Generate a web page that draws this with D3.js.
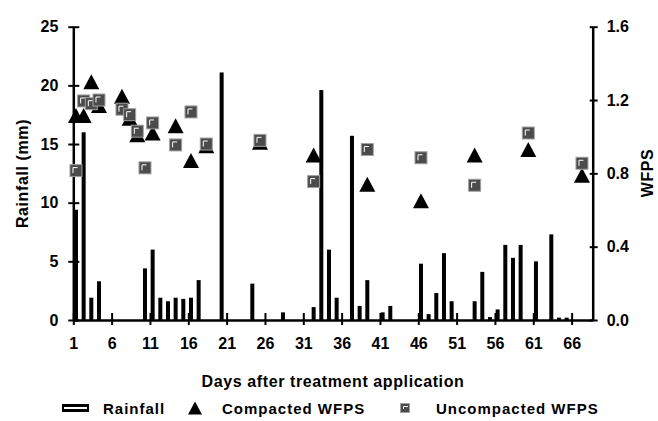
<!DOCTYPE html>
<html>
<head>
<meta charset="utf-8">
<script src="https://cdn.jsdelivr.net/npm/d3@7"></script>
<style>
    body { margin: 0; background: #fff; }
    text { font-family: "Liberation Sans", Arial, sans-serif; font-weight: bold; }
</style>
</head>
<body>
<div class="chart"></div>
<script>
// Rainfall (mm) per day after treatment application
var rainDays = [1, 2, 3, 4, 10, 11, 12, 13, 14, 15, 16, 17, 20, 24, 28, 32, 33, 34, 35, 37, 38, 39, 41, 42,
    46, 47, 48, 49, 50, 53, 54, 55, 56, 57, 58, 59, 61, 63, 64, 65]
var rainValues = [9.4, 16.0, 1.9, 3.3, 4.4, 6.0, 1.9, 1.6, 1.9, 1.8, 1.9, 3.4, 21.1, 3.1, 0.65, 1.1, 19.6, 6.0, 1.9, 15.7, 1.2, 3.4, 0.65, 1.2,
    4.8, 0.5, 2.3, 5.7, 1.6, 1.6, 4.1, 0.25, 0.9, 6.4, 5.3, 6.4, 5.0, 7.3, 0.2, 0.2]

// Water filled pore space, compacted plots
var compactedDays = [1, 2, 3, 4, 7, 8, 9, 11, 14, 16, 18, 25, 32, 39, 46, 53, 60, 67]
var compactedWfps = [1.115, 1.115, 1.30, 1.17, 1.22, 1.10, 1.01, 1.02, 1.06, 0.87, 0.95, 0.97, 0.90, 0.74, 0.65, 0.90, 0.93, 0.79]

// Water filled pore space, uncompacted plots
var uncompactedDays = [1, 2, 3, 4, 7, 8, 9, 10, 11, 14, 16, 18, 25, 32, 39, 46, 53, 60, 67]
var uncompactedWfps = [0.815, 1.195, 1.18, 1.20, 1.15, 1.12, 1.03, 0.83, 1.075, 0.955, 1.135, 0.96, 0.98, 0.755, 0.93, 0.885, 0.735, 1.02, 0.855]

var dayTicks = [1, 6, 11, 16, 21, 26, 31, 36, 41, 46, 51, 56, 61, 66]
var rainTicks = [0, 5, 10, 15, 20, 25]
var wfpsTicks = [0, 0.4, 0.8, 1.2, 1.6]

var width = 658
var height = 421
var plotLeft = 73.3, plotRight = 592.7, plotTop = 26.7, plotBottom = 320
var shift = 0.35 // marks sit a little right of the day tick

var svg = d3.select('div.chart').append('svg')
    .attr('width', width)
    .attr('height', height)

var x = d3.scaleLinear().domain([1, 68.75]).range([plotLeft, plotRight])
var yRain = d3.scaleLinear().domain([0, 25]).range([plotBottom, plotTop])
var yWfps = d3.scaleLinear().domain([0, 1.6]).range([plotBottom, plotTop])

// Rainfall bars
svg.selectAll('rect.rain')
    .data(rainDays.map((d, i) => ({ day: d, v: rainValues[i] })))
    .enter()
    .append('rect')
    .attr('class', 'rain')
    .attr('x', d => x(d.day + shift) - 2)
    .attr('width', 4)
    .attr('y', d => yRain(d.v))
    .attr('height', d => yRain(0) - yRain(d.v))
    .attr('fill', '#000')

// Axes with ticks crossing the line
var axisLeft = svg.append('g')
    .attr('transform', 'translate(' + plotLeft + ',0)')
    .call(d3.axisLeft(yRain).tickValues(rainTicks).tickSize(5).tickSizeOuter(0).tickPadding(10))
axisLeft.selectAll('.tick line').attr('x1', 6)

var axisRight = svg.append('g')
    .attr('transform', 'translate(' + plotRight + ',0)')
    .call(d3.axisRight(yWfps).tickValues(wfpsTicks).tickSize(5).tickSizeOuter(0).tickPadding(9)
        .tickFormat(d3.format('.1f')))
axisRight.selectAll('.tick line').attr('x1', -3)

var axisBottom = svg.append('g')
    .attr('transform', 'translate(0,' + plotBottom + ')')
    .call(d3.axisBottom(x).tickValues(dayTicks).tickSize(5).tickSizeOuter(0).tickPadding(13))
axisBottom.selectAll('.tick line').attr('y1', -7)

svg.selectAll('.domain').attr('stroke', '#000').attr('stroke-width', 2.5)
svg.selectAll('.tick line').attr('stroke', '#000').attr('stroke-width', 2)
svg.selectAll('.tick text')
    .attr('font-size', 16)
    .attr('font-family', '"Liberation Sans", Arial, sans-serif')
    .attr('font-weight', 'bold')
    .attr('fill', '#000')

// Compacted WFPS triangles
function triangle(cx, cy, w, h) {
    return 'M' + cx + ',' + (cy - h / 2) + 'L' + (cx + w / 2) + ',' + (cy + h / 2) + 'L' + (cx - w / 2) + ',' + (cy + h / 2) + 'Z'
}
svg.selectAll('path.compacted')
    .data(compactedDays.map((d, i) => ({ day: d, v: compactedWfps[i] })))
    .enter()
    .append('path')
    .attr('class', 'compacted')
    .attr('d', d => triangle(x(d.day + shift), yWfps(d.v), 16, 15))
    .attr('fill', '#000')

// Uncompacted WFPS squares with a light highlight
function square(g, cx, cy, s) {
    g.append('rect')
        .attr('x', cx - s / 2)
        .attr('y', cy - s / 2)
        .attr('width', s)
        .attr('height', s)
        .attr('fill', '#4b4b4b')
        .attr('stroke', '#a0a0a0')
        .attr('stroke-width', 1)
    g.append('path')
        .attr('d', 'M' + (cx - s / 2 + 3) + ',' + (cy + s / 2 - 3.5) + 'V' + (cy - s / 2 + 3) + 'H' + (cx - s / 2 + 7.5))
        .attr('fill', 'none')
        .attr('stroke', '#fff')
        .attr('stroke-width', 1)
}
uncompactedDays.forEach(function (d, i) {
    square(svg.append('g'), x(d + shift), yWfps(uncompactedWfps[i]), 12)
})

// Axis titles
svg.append('text')
    .text('Rainfall (mm)')
    .attr('transform', 'translate(28,173.5) rotate(-90)')
    .attr('text-anchor', 'middle')
    .attr('font-size', 16)
    .attr('letter-spacing', 0.6)

svg.append('text')
    .text('WFPS')
    .attr('transform', 'translate(653,173) rotate(-90)')
    .attr('text-anchor', 'middle')
    .attr('font-size', 16)
    .attr('letter-spacing', 0.6)

svg.append('text')
    .text('Days after treatment application')
    .attr('x', 333)
    .attr('y', 387)
    .attr('text-anchor', 'middle')
    .attr('font-size', 16)
    .attr('letter-spacing', 0.6)

// Legend
var legend = svg.append('g').attr('transform', 'translate(0,408)')
legend.append('rect')
    .attr('x', 62).attr('y', -4).attr('width', 27).attr('height', 8)
    .attr('fill', '#000')
legend.append('rect')
    .attr('x', 64).attr('y', -1).attr('width', 23).attr('height', 2)
    .attr('fill', '#fff')
legend.append('text').text('Rainfall')
    .attr('x', 103).attr('y', 5.5).attr('font-size', 15).attr('letter-spacing', 1)
legend.append('path')
    .attr('d', triangle(195, 0, 14, 13))
    .attr('fill', '#000')
legend.append('text').text('Compacted WFPS')
    .attr('x', 222).attr('y', 5.5).attr('font-size', 15).attr('letter-spacing', 1)
square(legend, 405, 0, 9)
legend.append('text').text('Uncompacted WFPS')
    .attr('x', 436).attr('y', 5.5).attr('font-size', 15).attr('letter-spacing', 1)
</script>
</body>
</html>
